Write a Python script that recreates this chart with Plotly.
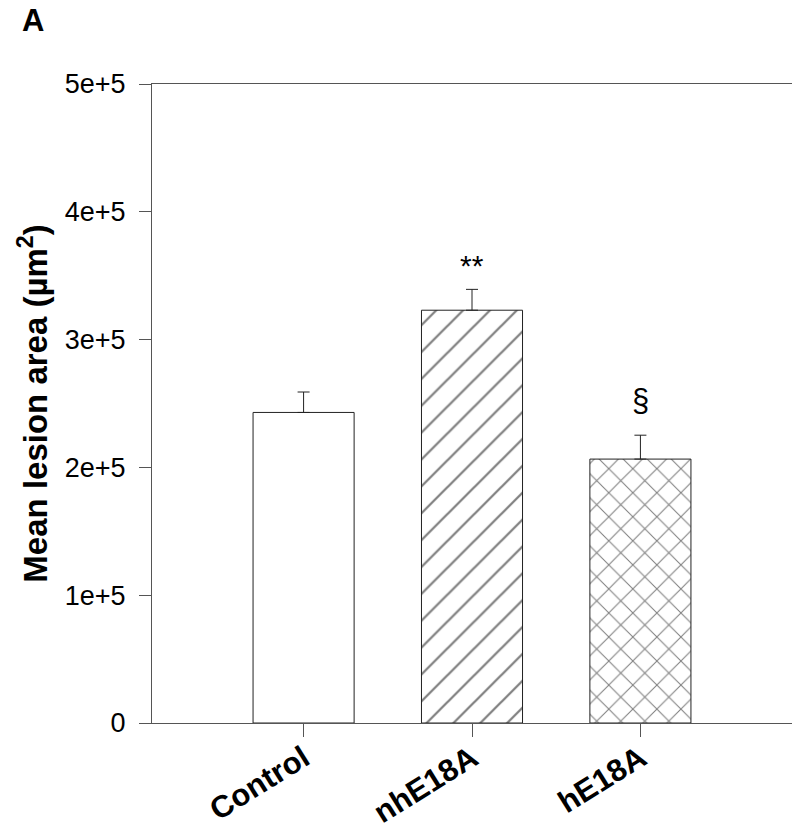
import plotly.graph_objects as go

# values
groups = ["Control", "nhE18A", "hE18A"]
mean_area = [243000, 323000, 206500]
sem_area = [16000, 16300, 18700]
fill_shapes = ["", "/", "x"]
marks = ["", "**", "§"]

y_ticks = [0, 100000, 200000, 300000, 400000, 500000]
y_tick_text = ["0", "1e+5", "2e+5", "3e+5", "4e+5", "5e+5"]

FONT = "Liberation Sans, Arial, sans-serif"
AXIS = "#555555"

# the page body adds an 8px offset, so the figure is shrunk and shifted to fit
PAGE_PAD = 8

fig = go.Figure()
fig.add_trace(go.Bar(
    x=groups,
    y=mean_area,
    width=0.6,
    marker=dict(
        color="white",
        line=dict(color="#222222", width=1),
        pattern=dict(shape=fill_shapes, size=[19, 19, 17], solidity=0.12,
                     fgcolor="#000000", bgcolor="white", fillmode="overlay"),
    ),
    error_y=dict(type="data", array=sem_area, arrayminus=[0, 0, 0], symmetric=False,
                 color="#222222", thickness=1, width=6),
    showlegend=False,
))

# significance marks above the error bars
for g, m, s, e in zip(groups, marks, mean_area, sem_area):
    if not m:
        continue
    fig.add_annotation(
        x=g, y=s + e, yref="y", text=m, showarrow=False,
        yanchor="bottom", yshift=5 if m == "**" else 15,
        font=dict(family=FONT, size=30 if m == "**" else 31, color="black"),
    )

# panel letter, top-left corner of the canvas
fig.add_annotation(x=-0.186, y=1.1, xref="paper", yref="paper", xanchor="center",
                   yanchor="middle", text="<b>A</b>", showarrow=False,
                   font=dict(family=FONT, size=31, color="black"))

fig.update_layout(
    width=800 - PAGE_PAD, height=830 - PAGE_PAD,
    margin=dict(l=152 - PAGE_PAD, r=8, t=84 - PAGE_PAD, b=107, autoexpand=False),
    paper_bgcolor="white", plot_bgcolor="white",
    font=dict(family=FONT, color="black"),
)

fig.update_xaxes(
    range=[-0.9, 2.9], automargin=False,
    showline=True, linecolor=AXIS, linewidth=1, mirror=True,
    ticks="outside", ticklen=13, tickcolor=AXIS, tickwidth=1,
    tickangle=-32, ticklabelstandoff=-9,
    tickfont=dict(family=FONT, size=31, color="black", weight="bold"),
    showgrid=False, zeroline=False,
)
fig.update_yaxes(
    range=[0, 500000], automargin=False,
    tickvals=y_ticks, ticktext=y_tick_text,
    showline=True, linecolor=AXIS, linewidth=1, mirror=True,
    ticks="outside", ticklen=12, tickcolor=AXIS, tickwidth=1,
    ticklabelstandoff=8,
    tickfont=dict(family=FONT, size=27, color="black"),
    title=dict(text="<b>Mean lesion area (µm<sup>2</sup>)</b>",
               font=dict(family=FONT, size=33, color="black"), standoff=7),
    showgrid=False, zeroline=False,
)

fig.write_html("out.html")
